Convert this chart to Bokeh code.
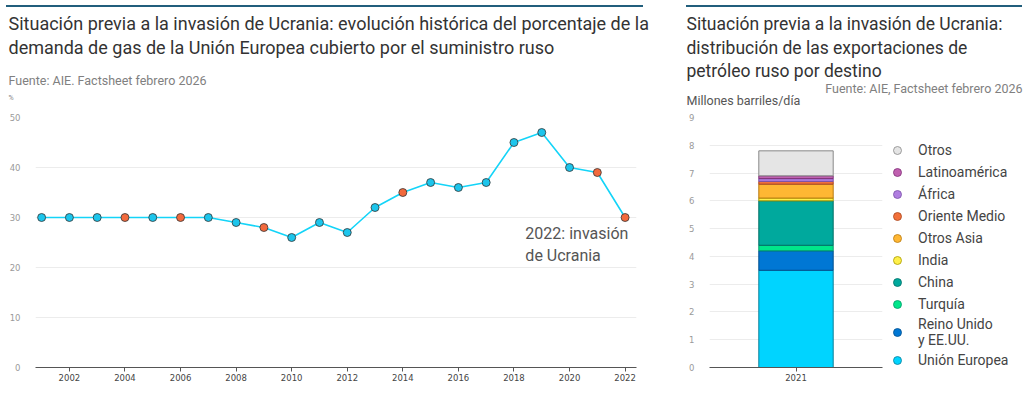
import numpy as np
from bokeh.plotting import figure
from bokeh.models import (Range1d, FactorRange, FixedTicker, Label, Legend, Title,
                          LegendItem, Div, ColumnDataSource)
from bokeh.layouts import row, column
from bokeh.embed import file_html
from bokeh.resources import INLINE

# ---------------- data ----------------
years = list(range(2001, 2023))
gas_share = [30, 30, 30, 30, 30, 30, 30, 29, 28, 26, 29, 27, 32, 35, 37, 36, 37, 45, 47, 40, 39, 30]
highlight_years = [2004, 2006, 2009, 2014, 2021, 2022]
x_ticks_left = [2002, 2004, 2006, 2008, 2010, 2012, 2014, 2016, 2018, 2020, 2022]
y_ticks_left = [0, 10, 20, 30, 40, 50]

bar_year = ["2021"]
destinations = ["Unión Europea", "Reino Unido\ny EE.UU.", "Turquía", "China", "India",
                "Otros Asia", "Oriente Medio", "África", "Latinoamérica", "Otros"]
exports = [3.5, 0.7, 0.2, 1.6, 0.1, 0.5, 0.1, 0.1, 0.1, 0.9]
y_ticks_right = [0, 1, 2, 3, 4, 5, 6, 7, 8, 9]

# ---------------- styles ----------------
TEXT_FONT = "Roboto"
TICK_FONT = "DejaVu Sans"
RULE = "#215e7c"
CYAN_LINE = "#14d4f8"
CYAN_PT = "#1cc5ec"
ORANGE_PT = "#f26a3d"
fills = ["#00d4ff", "#0077d4", "#00e68a", "#00a99d", "#fff04a",
         "#ffb733", "#f2703a", "#b07ee0", "#c060b0", "#e5e5e5"]
lines = ["#0a7f99", "#004f8e", "#00996a", "#006e66", "#a89a00",
         "#b87a10", "#a84820", "#7a50a8", "#803078", "#888888"]
FRAME_H = 250


def style_axes(p, yticks):
    p.outline_line_color = None
    p.xgrid.visible = False
    p.ygrid.grid_line_color = "#ececec"
    p.ygrid.grid_line_width = 1
    p.yaxis.ticker = FixedTicker(ticks=yticks)
    p.yaxis.axis_line_color = None
    p.yaxis.major_tick_line_color = None
    p.yaxis.minor_tick_line_color = None
    p.yaxis.major_label_standoff = 9
    p.yaxis.major_label_text_font = TICK_FONT
    p.yaxis.major_label_text_font_size = "8.5px"
    p.yaxis.major_label_text_color = "#9a9a9a"
    p.xaxis.axis_line_color = "#555555"
    p.xaxis.major_tick_line_color = "#555555"
    p.xaxis.major_tick_out = 4
    p.xaxis.major_tick_in = 0
    p.xaxis.minor_tick_line_color = None
    p.xaxis.major_label_standoff = 2
    p.xaxis.major_label_text_font = TICK_FONT
    p.xaxis.major_label_text_font_size = "8.5px"
    p.xaxis.major_label_text_color = "#444444"


def add_title(p, text, size, color, standoff, align="left", offset=0):
    # titles added first sit closest to the plot frame
    p.add_layout(Title(text=text, text_font=TEXT_FONT, text_font_size=size,
                       text_font_style="normal", text_color=color, align=align,
                       offset=offset, standoff=standoff), "above")


# ---------------- left chart ----------------
p1 = figure(frame_width=601, frame_height=FRAME_H,
            x_range=Range1d(2000.78, 2022.41), y_range=Range1d(0, 50),
            output_backend="svg", toolbar_location=None, title_location=None,
            min_border_left=35, min_border_right=50, min_border_top=110, min_border_bottom=0)
style_axes(p1, y_ticks_left)
p1.xaxis.ticker = FixedTicker(ticks=x_ticks_left)

add_title(p1, " ", "7px", "#888888", 8.8, offset=-27)          # spacer
add_title(p1, "%", "7px", "#888888", -6.2, offset=-27)
add_title(p1, "Fuente: AIE. Factsheet febrero 2026", "12.5px", "#808080", 13.4, offset=-27)
add_title(p1, "demanda de gas de la Unión Europea cubierto por el suministro ruso",
          "18px", "#333333", 12.9, offset=-27)
add_title(p1, "Situación previa a la invasión de Ucrania: evolución histórica del porcentaje de la",
          "18px", "#333333", -11.1, offset=-27)

ann = Label(x=2018.41, y=28.8, text="2022: invasión\nde Ucrania", text_font=TEXT_FONT,
            text_font_size="16px", text_color="#555555", text_baseline="top",
            text_line_height=1.2, background_fill_color="white", level="underlay")
p1.add_layout(ann)

pt_colors = [ORANGE_PT if y in highlight_years else CYAN_PT for y in years]
src1 = ColumnDataSource(data=dict(year=years, share=gas_share, color=pt_colors))
p1.line("year", "share", source=src1, line_color=CYAN_LINE, line_width=1.6)
p1.scatter("year", "share", source=src1, size=8, fill_color="color",
           line_color="#333333", line_width=0.8)

rule1 = Div(text="", width=637, height=2, margin=(5, 0, 0, 6),
            styles={"background-color": RULE})
left = column(rule1, p1, spacing=0)

# ---------------- right chart ----------------
p2 = figure(frame_width=173, frame_height=FRAME_H,
            x_range=FactorRange(factors=bar_year), y_range=Range1d(0, 9),
            output_backend="svg", toolbar_location=None, title_location=None,
            min_border_left=23, min_border_right=148, min_border_top=110, min_border_bottom=0)
style_axes(p2, y_ticks_right)

add_title(p2, " ", "7px", "#555555", 1.8, offset=-23)          # spacer
add_title(p2, "Millones barriles/día", "12.5px", "#555555", -4.6, offset=-23)
add_title(p2, "Fuente: AIE, Factsheet febrero 2026", "12.5px", "#808080", -4.6,
          align="right", offset=-140)
add_title(p2, "petróleo ruso por destino", "17.5px", "#333333", 1.5, offset=-23)
add_title(p2, "distribución de las exportaciones de", "17.5px", "#333333", -0.5, offset=-23)
add_title(p2, "Situación previa a la invasión de Ucrania:", "17.5px", "#333333", 3.5, offset=-23)

keys = ["s%d" % i for i in range(len(destinations))]
src2 = dict(year=bar_year)
for k, v in zip(keys, exports):
    src2[k] = [v]
src2 = ColumnDataSource(data=src2)
p2.vbar_stack(keys, x="year", width=0.43, source=src2, fill_color=fills,
              line_color=lines, line_width=1)

# legend markers (not drawn in the plot: y is NaN)
n = len(destinations)
leg_src = ColumnDataSource(data=dict(x=bar_year * n, y=np.full(n, np.nan),
                                     fill=fills, line=lines))
leg_r = p2.scatter("x", "y", source=leg_src, marker="circle", size=8,
                   fill_color="fill", line_color="line", line_width=0.8)
items = [LegendItem(label=destinations[i], renderers=[leg_r], index=i)
         for i in reversed(range(n))]
legend = Legend(items=items, location=(5, -3), margin=0, padding=5, spacing=2,
                glyph_width=20, glyph_height=20, label_height=20, label_standoff=11,
                label_text_font=TEXT_FONT, label_text_font_size="14px",
                label_text_color="#444444", border_line_color=None,
                background_fill_alpha=0)
p2.add_layout(legend, "right")

rule2 = Div(text="", width=336, height=2, margin=(5, 0, 0, 0),
            styles={"background-color": RULE})
right = column(rule2, p2, spacing=0)

layout = row(left, right, spacing=0)
open("out.html", "w").write(file_html(layout, INLINE))
